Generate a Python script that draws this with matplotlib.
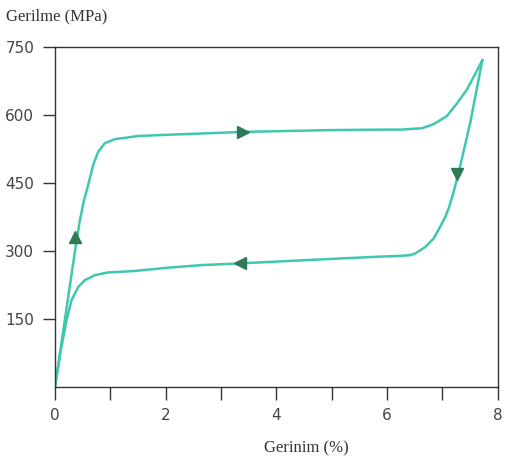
"""Superelastic stress-strain loop (Gerilme vs Gerinim)."""

import matplotlib
matplotlib.use("Agg")
import matplotlib.pyplot as plt

# ── Data ─────────────────────────────────────────────────────────────────────

load_strain = [0.0, 0.39, 0.45, 0.52, 0.60, 0.69, 0.78, 0.90, 1.08, 1.27,
               1.50, 2.11, 3.40, 5.00, 5.88, 6.24, 6.63, 6.84, 7.08, 7.25,
               7.44, 7.58, 7.72]
load_stress = [0, 324, 368, 410, 446, 490, 519, 538, 547, 550,
               554, 557, 563, 567, 568, 568, 571, 580, 598, 624,
               656, 688, 721]

unload_strain = [7.72, 7.50, 7.29, 7.20, 7.12, 7.05, 6.96, 6.84, 6.69, 6.51,
                 6.42, 6.15, 5.88, 4.50, 3.35, 2.62, 2.00, 1.41, 0.96, 0.72,
                 0.54, 0.42, 0.30, 0.21, 0.10, 0.0]
unload_stress = [721, 582, 472, 430, 397, 375, 354, 328, 309, 295,
                 291, 289, 288, 280, 273, 269, 263, 256, 253, 247,
                 236, 221, 192, 148, 78, 0]

# direction arrows: (strain, stress, marker)
arrow_x = [0.36, 3.40, 3.35, 7.26]
arrow_y = [331, 563, 273, 470]
arrow_m = ['^', '>', '<', 'v']

x_ticks = list(range(9))
x_labels = ['0', '', '2', '', '4', '', '6', '', '8']
y_ticks = [150, 300, 450, 600, 750]

LINE = '#3fc7b0'
ARROW = '#2d7a55'

# ── Plot ──────────────────────────────────────────────────────────────────────

fig = plt.figure(figsize=(5.09, 4.62), dpi=100)
ax = fig.add_axes([0.108, 0.162, 0.870, 0.736])

ax.plot(load_strain, load_stress, color=LINE, linewidth=1.8,
        solid_joinstyle='round')
ax.plot(unload_strain, unload_stress, color=LINE, linewidth=1.8,
        solid_joinstyle='round')

for x, y, m in zip(arrow_x, arrow_y, arrow_m):
    ax.plot(x, y, marker=m, markersize=9, color=ARROW,
            markeredgecolor=ARROW, linestyle='none', zorder=3)

ax.set_xlim(0, 8)
ax.set_ylim(0, 750)
ax.set_xticks(x_ticks)
ax.set_xticklabels(x_labels)
ax.set_yticks(y_ticks)
ax.tick_params(direction='out', length=9, width=1, colors='#333333',
               labelcolor='#444444', labelsize=11, pad=6)
for s in ax.spines.values():
    s.set_color('#333333')
    s.set_linewidth(1.0)

fig.text(0.012, 0.965, 'Gerilme (MPa)', fontsize=12,
         family='Liberation Serif', color='#333333', va='center', ha='left')
fig.text(0.601, 0.030, 'Gerinim (%)', fontsize=12,
         family='Liberation Serif', color='#333333', va='center', ha='center')

fig.savefig('out.png', dpi=100)
